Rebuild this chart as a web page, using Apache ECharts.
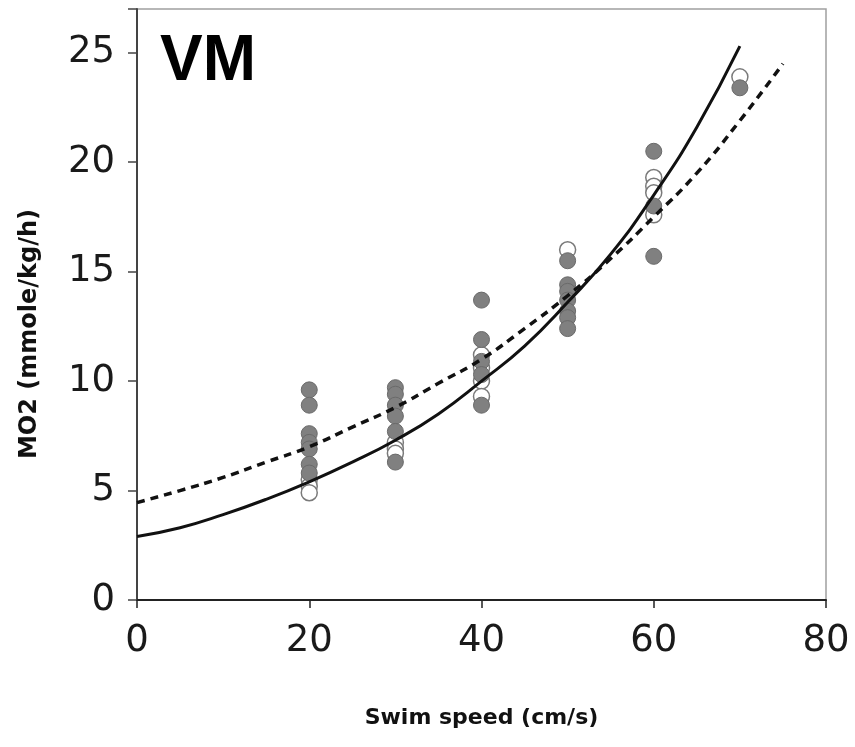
<!DOCTYPE html>
<html>
<head>
<meta charset="utf-8">
<script src="https://cdn.jsdelivr.net/npm/echarts@6/dist/echarts.min.js"></script>
<style>
html,body{margin:0;padding:0;background:#fff;}
#chart{width:855px;height:747px;}
</style>
</head>
<body>
<div id="chart"></div>
<script>
// Filled (grey) measurements
const filledSpeed = [20,20,20,20,20,20,20, 30,30,30,30,30,30, 40,40,40,40,40, 50,50,50,50,50,50,50, 60,60,60, 70];
const filledMO2   = [9.6,8.9,7.6,7.2,6.9,6.2,5.8, 9.7,9.4,8.9,8.4,7.7,6.3, 13.7,11.9,10.9,10.3,8.9, 15.5,14.4,14.1,13.7,13.2,12.9,12.4, 20.5,18.0,15.7, 23.4];
// Open (white) measurements
const openSpeed = [20,20,20, 30,30,30, 40,40,40,40, 50, 60,60,60,60, 70];
const openMO2   = [5.5,5.2,4.9, 7.2,6.9,6.7, 11.2,10.6,10.0,9.3, 16.0, 19.3,18.9,18.6,17.6, 23.9];
// Solid fitted curve
const solidSpeed = [0,5,10,15,20,25,30,35,40,45,50,55,60,65,70];
const solidMO2   = [2.9,3.3,3.9,4.6,5.4,6.3,7.3,8.5,10.0,11.6,13.6,15.8,18.5,21.6,25.3];
// Dashed fitted curve
const dashedSpeed = [0,5,10,15,20,25,30,35,40,45,50,55,60,65,70,75];
const dashedMO2   = [4.45,5.0,5.6,6.3,7.0,7.9,8.8,9.9,11.0,12.4,13.9,15.6,17.5,19.5,21.9,24.5];
// Axis ticks
const xTicks = [0,20,40,60,80];
const yTicks = [0,5,10,15,20,25];

const pairs = (xs, ys) => xs.map((x, i) => [x, ys[i]]);
const font = '"Liberation Sans", Arial, sans-serif';
const wideFont = '"DejaVu Sans", sans-serif';

const chart = echarts.init(document.getElementById('chart'));
chart.setOption({
  animation: false,
  backgroundColor: '#ffffff',
  grid: {
    left: 137, right: 29, top: 9, bottom: 147,
    show: true, borderColor: '#a0a0a0', borderWidth: 1.5, backgroundColor: 'transparent'
  },
  xAxis: {
    type: 'value', min: xTicks[0], max: xTicks[xTicks.length - 1], interval: 20,
    name: 'Swim speed (cm/s)', nameLocation: 'middle', nameGap: 107,
    nameTextStyle: { fontFamily: wideFont, fontSize: 22, fontWeight: 'bold', color: '#111' },
    axisLine: { show: true, onZero: false, lineStyle: { color: '#222', width: 2 } },
    axisTick: { show: true, inside: false, length: 8, lineStyle: { color: '#222', width: 1.5 } },
    axisLabel: { margin: 23, fontFamily: wideFont, fontSize: 37, color: '#1a1a1a' },
    splitLine: { show: false }
  },
  yAxis: {
    type: 'value', min: yTicks[0], max: 27, interval: 5,
    axisLine: { show: true, onZero: false, lineStyle: { color: '#444', width: 2 } },
    axisTick: { show: true, inside: false, length: 9, lineStyle: { color: '#444', width: 1.5 } },
    axisLabel: {
      margin: 22, fontFamily: wideFont, fontSize: 37, color: '#1a1a1a',
      formatter: v => (yTicks.indexOf(v) >= 0 ? String(v) : '')
    },
    splitLine: { show: false }
  },
  graphic: [
    {
      type: 'text', left: 160, top: 30, z: 100,
      style: { text: 'VM', fontFamily: font, fontSize: 64, fontWeight: 'bold', fill: '#000' }
    },
    {
      type: 'text', x: 30, y: 334, rotation: Math.PI / 2, z: 100,
      style: {
        text: 'MO2 (mmole/kg/h)', fontFamily: wideFont, fontSize: 24, fontWeight: 'bold',
        fill: '#111', align: 'center', verticalAlign: 'middle'
      }
    }
  ],
  series: [
    {
      type: 'scatter', name: 'open', data: pairs(openSpeed, openMO2), symbolSize: 16, z: 2,
      itemStyle: { color: '#ffffff', borderColor: '#7a7a7a', borderWidth: 1.5, opacity: 1 }
    },
    {
      type: 'scatter', name: 'filled', data: pairs(filledSpeed, filledMO2), symbolSize: 16, z: 3,
      itemStyle: { color: '#808080', borderColor: '#6a6a6a', borderWidth: 1, opacity: 1 }
    },
    {
      type: 'line', name: 'solid', data: pairs(solidSpeed, solidMO2), smooth: true,
      showSymbol: false, z: 5, lineStyle: { color: '#111', width: 3 }
    },
    {
      type: 'line', name: 'dashed', data: pairs(dashedSpeed, dashedMO2), smooth: true,
      showSymbol: false, z: 5, lineStyle: { color: '#111', width: 3.5, type: [8, 6] }
    }
  ]
});
</script>
</body>
</html>
